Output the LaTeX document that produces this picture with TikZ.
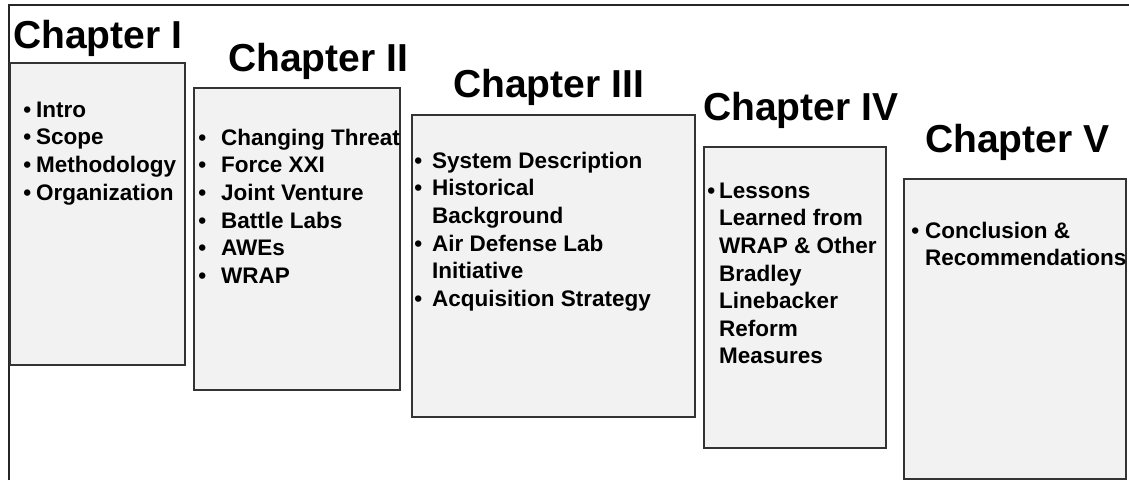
\documentclass[tikz,border=0pt]{standalone}
\usepackage{fontspec}
\setmainfont{Liberation Sans}
\tikzset{
  chapbox/.style={draw=black!80, line width=1.2pt, fill=black!5},
  chaptitle/.style={anchor=base west, inner sep=0pt,
    font=\fontsize{39}{44}\selectfont\bfseries},
  chaptext/.style={anchor=north west, inner sep=0pt, align=left,
    font=\fontsize{22.5}{27.6}\selectfont\bfseries},
}
\newcommand{\itm}[1]{\llap{\textbullet\hspace{#1}}}
\newcommand{\firstline}{\rule{0pt}{17pt}}
\begin{document}
\begin{tikzpicture}[x=1pt, y=-1pt]
  \useasboundingbox (0,0) rectangle (1129,480);
  \draw[line width=1.5pt, black!85] (9,480) -- (9,5) -- (1129,5);
  % boxes
  \draw[chapbox] (10,63) rectangle (185,365);
  \draw[chapbox] (194,88) rectangle (400,390);
  \draw[chapbox] (412,115) rectangle (695,417);
  \draw[chapbox] (704,147) rectangle (886,448);
  \draw[chapbox] (904,179) rectangle (1126,479);
  % titles
  \node[chaptitle] (ch1) at (13,48) {Chapter I};
  \node[chaptitle] (ch2) at (228,71) {Chapter II};
  \node[chaptitle] (ch3) at (453,97) {Chapter III};
  \node[chaptitle] (ch4) at (703,120) {Chapter IV};
  \node[chaptitle] (ch5) at (925,152) {Chapter V};
  % contents
  \node[chaptext] (list1) at (36,100) {\firstline\itm{5pt}Intro\\
    \itm{5pt}Scope\\
    \itm{5pt}Methodology\\
    \itm{5pt}Organization};
  \node[chaptext] (list2) at (221,128) {\firstline\itm{15pt}Changing Threat\\
    \itm{15pt}Force XXI\\
    \itm{15pt}Joint Venture\\
    \itm{15pt}Battle Labs\\
    \itm{15pt}AWEs\\
    \itm{15pt}WRAP};
  \node[chaptext] (list3) at (432,151) {\firstline\itm{10pt}System Description\\
    \itm{10pt}Historical\\
    Background\\
    \itm{10pt}Air Defense Lab\\
    Initiative\\
    \itm{10pt}Acquisition Strategy};
  \node[chaptext] (list4) at (719,181) {\firstline\itm{4pt}Lessons\\
    Learned from\\
    WRAP \& Other\\
    Bradley\\
    Linebacker\\
    Reform\\
    Measures};
  \node[chaptext] (list5) at (925,221) {\firstline\itm{6pt}Conclusion \&\\
    Recommendations};
\end{tikzpicture}
\end{document}
